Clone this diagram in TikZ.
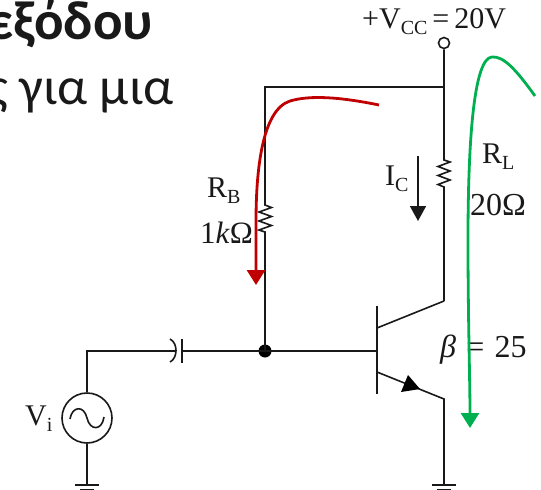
\documentclass[tikz,border=0pt]{standalone}
\usepackage{fontspec}
\setmainfont{Liberation Serif}
\newfontfamily\slidefont{Carlito}
\usetikzlibrary{arrows.meta}
\definecolor{curvered}{RGB}{192,0,0}
\definecolor{curvegreen}{RGB}{0,176,80}
\newcommand{\sbs}[1]{\raisebox{-0.2em}{\fontsize{20}{20}\selectfont #1}}
\tikzset{
  wire/.style={line width=1.6pt,black!90,line join=miter},
  lab/.style={anchor=base west,inner sep=0pt,font=\fontsize{30}{30}\selectfont,text=black!90},
  slide/.style={anchor=base east,inner sep=0pt,text=black!90},
  red curve/.style={line width=2.8pt,curvered,-{Triangle[length=15pt,width=18pt]}},
  green curve/.style={line width=2.8pt,curvegreen,-{Triangle[length=15pt,width=18pt]}},
}
\begin{document}
\begin{tikzpicture}[x=1pt,y=-1pt]
\useasboundingbox (0,0) rectangle (541,490);
\clip (0,0) rectangle (541,490);
\node[slide,font=\slidefont\bfseries\fontsize{55}{55}\selectfont] (title) at (153,39) {εξόδου};
\node[slide,font=\slidefont\fontsize{53}{53}\selectfont] (subtitle) at (174,104) {ς για μια};

% named points
\coordinate (top) at (444,87);
\coordinate (topleft) at (265,87);
\coordinate (junction) at (265,351);
\coordinate (srcTop) at (87,351);
\coordinate (coll) at (444,301);
\coordinate (emit) at (444,399);
\coordinate (gndR) at (444,485);
\coordinate (gndL) at (87,485);
\coordinate (capL) at (176,351);
\coordinate (capR) at (182,351);
\coordinate (baseB) at (377,351);
\coordinate (bc) at (377,328);
\coordinate (be) at (377,372);

\node[circle,draw,line width=1.6pt,black!90,minimum size=11pt,inner sep=0pt] (vcc) at (444,43) {};
\node[circle,draw,line width=1.6pt,black!90,minimum size=50pt,inner sep=0pt] (src) at (87,418) {};
\node[circle,fill=black,minimum size=13pt,inner sep=0pt] (dot) at (junction) {};

% supply and load
\draw[wire] (vcc) -- (top) -- (444,160) -- (450,162) -- (438,166.5) -- (450,171) -- (438,175.5) -- (450,180) -- (438,184.5) -- (444,187) -- (coll);
\draw[wire] (top) -- (topleft) -- (265,205) -- (271.5,207.5) -- (259,212) -- (271.5,216.5) -- (259,221) -- (271.5,225.5) -- (259,230) -- (265,232) -- (junction);
% base and transistor
\draw[wire] (src) -- (srcTop) -- (capL);
\draw[wire] (170,339) .. controls (178,343) and (178,358) .. (170,362);
\draw[wire] (182,339) -- (182,363);
\draw[wire] (capR) -- (baseB);
\draw[wire] (377,306) -- (377,394);
\draw[wire] (bc) -- (coll);
\draw[wire] (be) -- (emit) -- (gndR);
\fill[black] (420,389) -- (401,392) -- (408,375) -- cycle;
\draw[wire] (src) -- (gndL);
% source wave
\draw[wire] (70,419) .. controls (72,406) and (84,405) .. (87,418) .. controls (90,431) and (102,431) .. (104,417);
% grounds
\draw[wire] (432,485) -- (456,485) (437,490) -- (451,490);
\draw[wire] (75,485) -- (99,485) (80,490) -- (94,490);
% current arrow
\coordinate (icA) at (418,156);
\coordinate (icB) at (418,221);
\draw[line width=1.6pt,black!90,-{Triangle[length=15pt,width=16pt]}] (icA) -- (icB);
% labels
\node[lab] (vccl) at (362,28) {+V\sbs{CC}\,=\,20V};
\node[lab] (rb) at (207,197) {R\sbs{B}};
\node[lab,font=\fontsize{31}{31}\selectfont] (rbv) at (200,243) {1\textit{k}Ω};
\node[lab] (ic) at (385,185) {I\sbs{C}};
\node[lab] (rl) at (482,163) {R\sbs{L}};
\node[lab,font=\fontsize{32}{32}\selectfont] (rlv) at (470,215) {20Ω};
\node[lab,font=\fontsize{32}{32}\selectfont] (beta) at (440,357) {\textit{β}\hspace{0.32em}=\hspace{0.32em}25};
\node[lab] (vi) at (25,425) {V\sbs{i}};
% overlaid curves
\coordinate (redS) at (379,105);
\coordinate (redE) at (256,285);
\coordinate (greenS) at (535,96);
\coordinate (greenE) at (470,428);
\draw[red curve] (redS) .. controls (340,97) and (310,95) .. (290,101) .. controls (262,110) and (256,170) .. (256,222) -- (redE);
\draw[green curve] (greenS) .. controls (515,68) and (503,56) .. (492,57) .. controls (475,58) and (468,130) .. (468,240) .. controls (468,320) and (470,380) .. (greenE);
\end{tikzpicture}
\end{document}
